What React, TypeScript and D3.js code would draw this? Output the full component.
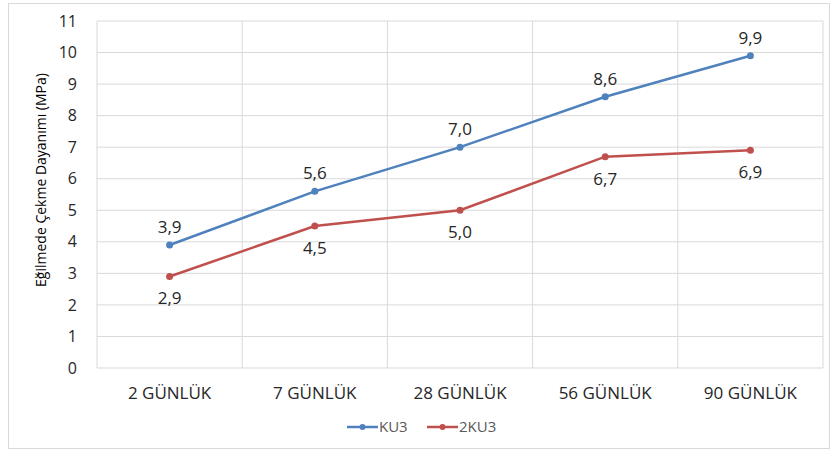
import React from "react";
import * as d3 from "d3";

const categories = ["2 GÜNLÜK", "7 GÜNLÜK", "28 GÜNLÜK", "56 GÜNLÜK", "90 GÜNLÜK"];
const ku3 = [3.9, 5.6, 7.0, 8.6, 9.9];
const ku3_2 = [2.9, 4.5, 5.0, 6.7, 6.9];
const yTicks = [0, 1, 2, 3, 4, 5, 6, 7, 8, 9, 10, 11];
const seriesNames = ["KU3", "2KU3"];

const W = 832, H = 451;
const L = 97, R = 823, T = 21, B = 368;
const FONT = "'Open Sans', 'Noto Sans', sans-serif";

export default function App() {
  const x = d3.scaleBand<string>().domain(categories).range([L, R]);
  const y = d3.scaleLinear().domain([0, 11]).range([B, T]);
  const cx = (c: string) => (x(c) as number) + x.bandwidth() / 2;
  const line = d3.line<number>().x((_, i) => cx(categories[i])).y((d) => y(d));
  const fmt = (v: number) => v.toFixed(1).replace(".", ",");
  const series = [
    { name: seriesNames[0], data: ku3, color: "#4F81BD", above: true },
    { name: seriesNames[1], data: ku3_2, color: "#C0504D", above: false },
  ];
  const boundaries = categories.map((c) => x(c) as number).concat([R]);
  return (
    <svg width={W} height={H} style={{ position: "absolute", left: 0, top: 0 }} fontFamily={FONT}>
      <rect x={0} y={0} width={W} height={H} fill="#fff" />
      <rect x={8.5} y={3.5} width={821} height={445} fill="#fff" stroke="#d9d9d9" />
      {yTicks.map((t) => (
        <line key={"h" + t} x1={L} x2={R} y1={y(t)} y2={y(t)} stroke="#d9d9d9" strokeWidth={1} />
      ))}
      {boundaries.map((b, i) => (
        <line key={"v" + i} x1={b} x2={b} y1={T} y2={B} stroke="#d9d9d9" strokeWidth={1} />
      ))}
      {yTicks.map((t) => (
        <text key={"yt" + t} x={77} y={y(t)} dy="0.35em" textAnchor="end" fontSize={16} fill="#262626">
          {t}
        </text>
      ))}
      {categories.map((c) => (
        <text key={"c" + c} x={cx(c)} y={393} dy="0.35em" textAnchor="middle" fontSize={17} fill="#262626">
          {c}
        </text>
      ))}
      <text
        transform={`translate(41,180) rotate(-90)`}
        textAnchor="middle"
        dy="0.35em"
        fontSize={14}
        fill="#000"
      >
        Eğilmede Çekme Dayanımı (MPa)
      </text>
      {series.map((s) => (
        <g key={s.name}>
          <path d={line(s.data) as string} fill="none" stroke={s.color} strokeWidth={2.5} />
          {s.data.map((v, i) => (
            <circle key={i} cx={cx(categories[i])} cy={y(v)} r={3.5} fill={s.color} />
          ))}
          {s.data.map((v, i) => (
            <text
              key={"l" + i}
              x={cx(categories[i])}
              y={y(v) + (s.above ? -18 : 22)}
              dy="0.35em"
              textAnchor="middle"
              fontSize={17}
              fill="#262626"
            >
              {fmt(v)}
            </text>
          ))}
        </g>
      ))}
      {series.map((s, i) => {
        const lx = i === 0 ? 347 : 427;
        return (
          <g key={"lg" + s.name}>
            <line x1={lx} x2={lx + 31} y1={427} y2={427} stroke={s.color} strokeWidth={2.5} />
            <circle cx={lx + 15.5} cy={427} r={3} fill={s.color} />
            <text x={lx + 32} y={427} dy="0.35em" fontSize={15} fill="#595959">
              {s.name}
            </text>
          </g>
        );
      })}
    </svg>
  );
}
